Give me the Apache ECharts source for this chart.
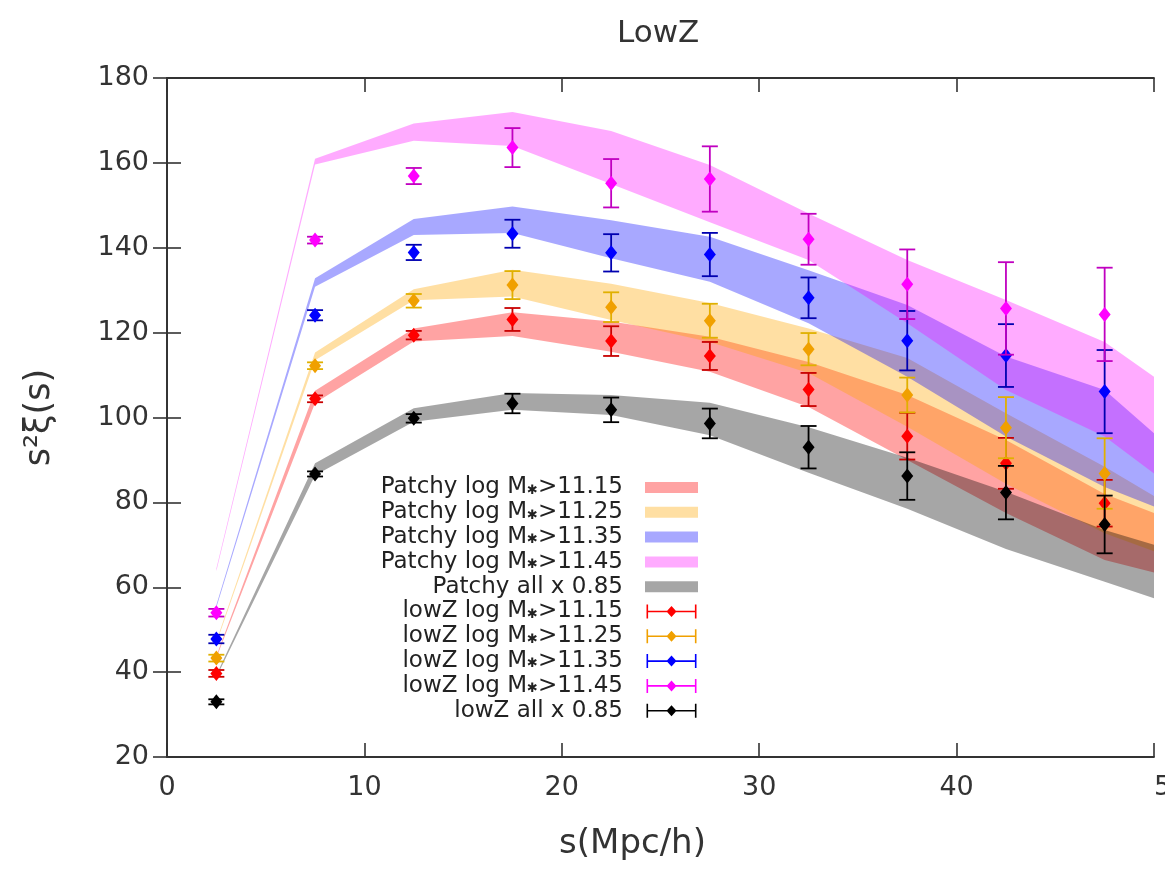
<!DOCTYPE html>
<html><head><meta charset="utf-8">
<script src="https://cdn.jsdelivr.net/npm/echarts@6/dist/echarts.min.js"></script>
<style>html,body{margin:0;padding:0;background:#fff}#c{width:1165px;height:869px}</style>
</head><body><div id="c"></div>
<script>
// ---- data ----
const bandX = [2.5, 7.5, 12.5, 17.5, 22.5, 27.5, 32.5, 37.5, 42.5, 47.5, 50];
const band1115Lo = [43.3, 103.4, 117.9, 119.2, 115.5, 110.8, 102.5, 90.0, 77.5, 66.4, 63.5];
const band1115Hi = [43.8, 106.3, 121.0, 124.8, 122.6, 119.0, 113.1, 105.3, 94.7, 82.0, 77.5];
const band1125Lo = [46.8, 113.5, 127.6, 128.5, 123.0, 117.8, 110.5, 97.8, 84.4, 72.7, 68.5];
const band1125Hi = [47.3, 115.3, 130.2, 134.8, 131.5, 127.0, 121.0, 114.0, 101.0, 88.4, 81.5];
const band1135Lo = [55.2, 130.8, 143.0, 143.5, 137.5, 132.0, 122.2, 109.6, 95.5, 83.6, 79.0];
const band1135Hi = [55.8, 132.8, 146.8, 149.7, 146.5, 142.6, 134.7, 126.5, 114.4, 106.5, 96.3];
const band1145Lo = [63.8, 159.6, 165.2, 164.0, 155.0, 146.0, 137.1, 122.2, 106.5, 95.5, 86.8];
const band1145Hi = [64.4, 161.0, 169.3, 172.0, 167.5, 159.5, 148.1, 137.1, 127.7, 117.8, 109.6];
const bandAllLo  = [38.8, 86.4, 99.0, 101.8, 100.6, 95.8, 87.0, 78.5, 69.0, 61.3, 57.4];
const bandAllHi  = [39.3, 89.2, 102.2, 105.8, 105.3, 103.5, 97.7, 90.5, 82.5, 73.5, 70.0];

const pointX = [2.5, 7.5, 12.5, 17.5, 22.5, 27.5, 32.5, 37.5, 42.5, 47.5];
const low1115 = [39.7, 104.4, 119.4, 123.1, 118.0, 114.5, 106.6, 95.6, 89.2, 79.8];
const err1115 = [0.8, 0.8, 1.0, 2.7, 3.5, 3.3, 3.9, 5.5, 6.0, 5.5];
const low1125 = [43.3, 112.2, 127.5, 131.2, 126.0, 122.8, 116.1, 105.3, 97.6, 86.8];
const err1125 = [0.8, 0.8, 1.6, 3.3, 3.5, 4.0, 3.8, 4.1, 7.2, 8.3];
const low1135 = [47.8, 124.1, 138.9, 143.3, 138.8, 138.4, 128.2, 118.1, 114.6, 106.1];
const err1135 = [1.0, 1.2, 1.8, 3.3, 4.4, 5.1, 4.8, 7.0, 7.4, 9.8];
const low1145 = [54.0, 141.8, 156.9, 163.6, 155.2, 156.2, 142.0, 131.4, 125.7, 124.3];
const err1145 = [0.9, 0.8, 1.9, 4.6, 5.7, 7.7, 6.0, 8.2, 10.9, 11.0];
const lowAll  = [33.0, 86.7, 99.8, 103.3, 101.8, 98.6, 93.0, 86.2, 82.3, 74.8];
const errAll  = [0.6, 0.6, 1.0, 2.3, 2.9, 3.5, 5.0, 5.6, 6.3, 6.8];

const xTicks = {min: 0, max: 50, step: 10};
const yTicks = {min: 20, max: 180, step: 20};

// ---- styling / series construction ----
const FONT = 'DejaVu Sans';
const AX = '#333';
const bands = [
  {name: 'Patchy log M*>11.15', color: 'rgba(255,0,0,0.36)',   lo: band1115Lo, hi: band1115Hi},
  {name: 'Patchy log M*>11.25', color: 'rgba(255,165,0,0.36)', lo: band1125Lo, hi: band1125Hi},
  {name: 'Patchy log M*>11.35', color: 'rgba(0,0,255,0.34)',   lo: band1135Lo, hi: band1135Hi},
  {name: 'Patchy log M*>11.45', color: 'rgba(255,0,255,0.33)', lo: band1145Lo, hi: band1145Hi},
  {name: 'Patchy all x 0.85',   color: 'rgba(0,0,0,0.35)',     lo: bandAllLo,  hi: bandAllHi}
];
const pts = [
  {name: 'lowZ log M*>11.15', marker: '#ff0000', line: '#c80000', y: low1115, e: err1115},
  {name: 'lowZ log M*>11.25', marker: '#f0a000', line: '#e0b000', y: low1125, e: err1125},
  {name: 'lowZ log M*>11.35', marker: '#0000ff', line: '#0000b0', y: low1135, e: err1135},
  {name: 'lowZ log M*>11.45', marker: '#ff00ff', line: '#c000c0', y: low1145, e: err1145},
  {name: 'lowZ all x 0.85',   marker: '#000000', line: '#000000', y: lowAll,  e: errAll}
];

function bandSeries(b) {
  return {
    type: 'custom', name: b.name, coordinateSystem: 'cartesian2d', clip: true, silent: true, z: 2,
    itemStyle: {color: b.color},
    data: bandX.map((x, i) => [x, b.lo[i], b.hi[i]]),
    encode: {x: 0, y: [1, 2]},
    renderItem: function (params, api) {
      if (params.dataIndex !== 0) return null;
      const p = [];
      for (let i = 0; i < bandX.length; i++) p.push(api.coord([bandX[i], b.hi[i]]));
      for (let i = bandX.length - 1; i >= 0; i--) p.push(api.coord([bandX[i], b.lo[i]]));
      return {type: 'polygon', shape: {points: p}, style: {fill: b.color, stroke: null}};
    }
  };
}
function errSeries(s) {
  return {
    type: 'custom', name: s.name, coordinateSystem: 'cartesian2d', clip: true, silent: true, z: 5,
    itemStyle: {color: s.marker},
    data: pointX.map((x, i) => [x, s.y[i], s.e[i]]),
    encode: {x: 0, y: 1},
    renderItem: function (params, api) {
      const x = api.value(0), y = api.value(1), e = api.value(2);
      const c = api.coord([x, y]), t = api.coord([x, y + e]), b = api.coord([x, y - e]);
      const hw = 8, ls = {stroke: s.line, lineWidth: 1.8};
      return {type: 'group', children: [
        {type: 'line', shape: {x1: t[0], y1: t[1], x2: b[0], y2: b[1]}, style: ls},
        {type: 'line', shape: {x1: t[0] - hw, y1: t[1], x2: t[0] + hw, y2: t[1]}, style: ls},
        {type: 'line', shape: {x1: b[0] - hw, y1: b[1], x2: b[0] + hw, y2: b[1]}, style: ls},
        {type: 'polygon', shape: {points: [[c[0], c[1] - 7.5], [c[0] + 6, c[1]], [c[0], c[1] + 7.5], [c[0] - 6, c[1]]]},
         style: {fill: s.marker}}
      ]};
    }
  };
}

const errIcon = 'path://M0,0h1.6v14h-1.6zM48.4,0h1.6v14h-1.6zM0,6.2h50v1.6h-50zM25,1.5l5,5.5l-5,5.5l-5,-5.5z';
const rectIcon = 'path://M0,0h53v11h-53z';

const axisCommon = {
  type: 'value',
  axisLine: {show: true, lineStyle: {color: AX, width: 1.8}},
  axisTick: {show: true, inside: true, length: 14, lineStyle: {color: AX, width: 1.6}},
  splitLine: {show: false}
};

const chart = echarts.init(document.getElementById('c'), null, {renderer: 'canvas'});
chart.setOption({
  animation: false,
  backgroundColor: '#fff',
  title: {
    text: 'LowZ', left: 612, top: 13,
    textStyle: {fontFamily: FONT, fontSize: 31, fontWeight: 'normal', color: '#333'}
  },
  grid: {left: 167, right: 11, top: 78, bottom: 112, containLabel: false, outerBoundsMode: 'none'},
  xAxis: [
    Object.assign({}, axisCommon, {
      min: xTicks.min, max: xTicks.max, interval: xTicks.step, position: 'bottom',
      axisLabel: {fontFamily: FONT, fontSize: 27, color: '#333', margin: 17, alignMaxLabel: 'left'},
      name: 's(Mpc/h)', nameLocation: 'middle', nameGap: 70,
      nameTextStyle: {fontFamily: FONT, fontSize: 34, color: '#333', padding: [0, 56, 0, 0]}
    }),
    Object.assign({}, axisCommon, {
      min: xTicks.min, max: xTicks.max, interval: xTicks.step, position: 'top', axisLabel: {show: false}
    })
  ],
  yAxis: [
    Object.assign({}, axisCommon, {
      min: yTicks.min, max: yTicks.max, interval: yTicks.step, position: 'left',
      axisLabel: {fontFamily: FONT, fontSize: 27, color: '#333', margin: 18},
      name: 's²ξ(s)', nameLocation: 'middle', nameGap: 110, nameRotate: 90,
      nameTextStyle: {fontFamily: FONT, fontSize: 35, color: '#333'}
    }),
    Object.assign({}, axisCommon, {
      min: yTicks.min, max: yTicks.max, interval: yTicks.step, position: 'right', axisLabel: {show: false}
    })
  ],
  legend: {
    orient: 'vertical', align: 'right', right: 467, top: 476, padding: 0,
    itemWidth: 53, itemHeight: 14, itemGap: 1.8, symbolKeepAspect: true,
    selectedMode: false,
    textStyle: {fontFamily: FONT, fontSize: 23, color: '#222', lineHeight: 22, padding: [0, 17, 0, 0],
      rich: {s: {fontSize: 13, fontFamily: FONT, color: '#222', padding: [6, 0, 0, 0]}}},
    formatter: function (n) { return n.replace('M*', 'M{s|✱}'); },
    data: bands.map(b => ({name: b.name, icon: rectIcon})).concat(pts.map(p => ({name: p.name, icon: errIcon})))
  },
  series: bands.map(bandSeries).concat(pts.map(errSeries))
});
</script></body></html>
